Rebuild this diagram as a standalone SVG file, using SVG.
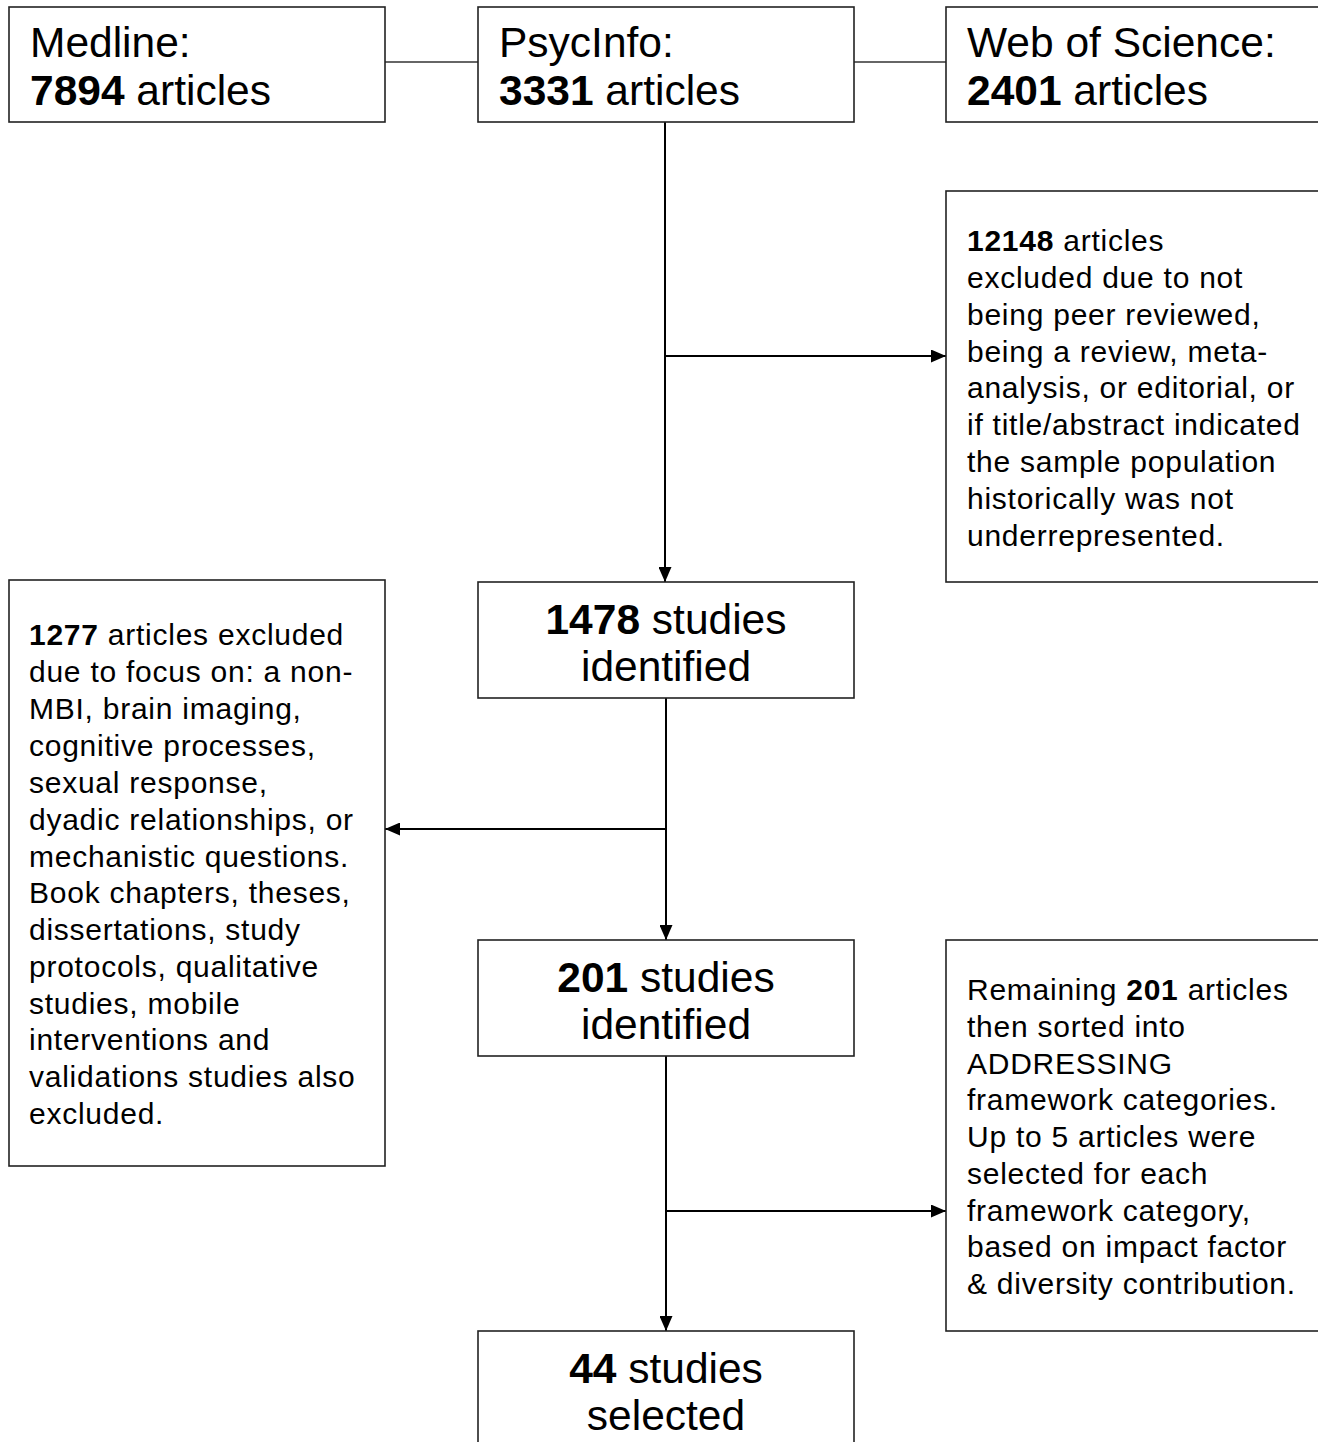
<svg xmlns="http://www.w3.org/2000/svg" width="1318" height="1442" viewBox="0 0 1318 1442">
<style>
.box{fill:#fff;stroke:#222;stroke-width:1.6}
.t{font-family:"Liberation Sans",Arial,sans-serif;fill:#000}
.big{font-size:42.5px}
.sm{font-size:30px;letter-spacing:0.75px}
.c{text-anchor:middle}
.b{font-weight:bold}
.conn{stroke:#000;stroke-width:2;fill:none}
.thin{stroke:#333;stroke-width:1.3;fill:none}
</style>
<defs>
<marker id="ah" markerWidth="15" markerHeight="13" refX="15" refY="6.5" orient="auto" markerUnits="userSpaceOnUse">
<path d="M0,0 L15,6.5 L0,13 Z" fill="#000"/>
</marker>
</defs>
<rect width="1318" height="1442" fill="#fff"/>
<g id="connectors">
<line class="thin" x1="385" y1="62" x2="478" y2="62"/>
<line class="thin" x1="854" y1="62" x2="946" y2="62"/>
<line class="conn" x1="665" y1="122" x2="665" y2="582" marker-end="url(#ah)"/>
<line class="conn" x1="665" y1="356" x2="946" y2="356" marker-end="url(#ah)"/>
<line class="conn" x1="666" y1="698" x2="666" y2="940" marker-end="url(#ah)"/>
<line class="conn" x1="666" y1="829" x2="385" y2="829" marker-end="url(#ah)"/>
<line class="conn" x1="666" y1="1056" x2="666" y2="1331" marker-end="url(#ah)"/>
<line class="conn" x1="666" y1="1211" x2="946" y2="1211" marker-end="url(#ah)"/>
</g>
<g id="medline">
<rect class="box" x="9" y="7" width="376" height="115"/>
<text class="t big" x="30" y="57">Medline:</text>
<text class="t big" x="30" y="105"><tspan class="b">7894</tspan> articles</text>
</g>
<g id="psycinfo">
<rect class="box" x="478" y="7" width="376" height="115"/>
<text class="t big" x="499" y="57">PsycInfo:</text>
<text class="t big" x="499" y="105"><tspan class="b">3331</tspan> articles</text>
</g>
<g id="wos">
<rect class="box" x="946" y="7" width="390" height="115"/>
<text class="t big" x="967" y="57">Web of Science:</text>
<text class="t big" x="967" y="105"><tspan class="b">2401</tspan> articles</text>
</g>
<g id="excl1">
<rect class="box" x="946" y="191" width="390" height="391"/>
<text class="t sm" x="967" y="251"><tspan class="b">12148</tspan> articles</text>
<text class="t sm" x="967" y="288">excluded due to not</text>
<text class="t sm" x="967" y="325">being peer reviewed,</text>
<text class="t sm" x="967" y="362">being a review, meta-</text>
<text class="t sm" x="967" y="398">analysis, or editorial, or</text>
<text class="t sm" x="967" y="435">if title/abstract indicated</text>
<text class="t sm" x="967" y="472">the sample population</text>
<text class="t sm" x="967" y="509">historically was not</text>
<text class="t sm" x="967" y="546">underrepresented.</text>
</g>
<g id="n1478">
<rect class="box" x="478" y="582" width="376" height="116"/>
<text class="t big c" x="666" y="634"><tspan class="b">1478</tspan> studies</text>
<text class="t big c" x="666" y="681">identified</text>
</g>
<g id="excl2">
<rect class="box" x="9" y="580" width="376" height="586"/>
<text class="t sm" x="29" y="645"><tspan class="b">1277</tspan> articles excluded</text>
<text class="t sm" x="29" y="682">due to focus on: a non-</text>
<text class="t sm" x="29" y="719">MBI, brain imaging,</text>
<text class="t sm" x="29" y="756">cognitive processes,</text>
<text class="t sm" x="29" y="793">sexual response,</text>
<text class="t sm" x="29" y="830">dyadic relationships, or</text>
<text class="t sm" x="29" y="867">mechanistic questions.</text>
<text class="t sm" x="29" y="903">Book chapters, theses,</text>
<text class="t sm" x="29" y="940">dissertations, study</text>
<text class="t sm" x="29" y="977">protocols, qualitative</text>
<text class="t sm" x="29" y="1014">studies, mobile</text>
<text class="t sm" x="29" y="1050">interventions and</text>
<text class="t sm" x="29" y="1087">validations studies also</text>
<text class="t sm" x="29" y="1124">excluded.</text>
</g>
<g id="n201">
<rect class="box" x="478" y="940" width="376" height="116"/>
<text class="t big c" x="666" y="992"><tspan class="b">201</tspan> studies</text>
<text class="t big c" x="666" y="1039">identified</text>
</g>
<g id="sort">
<rect class="box" x="946" y="940" width="390" height="391"/>
<text class="t sm" x="967" y="1000">Remaining <tspan class="b">201</tspan> articles</text>
<text class="t sm" x="967" y="1037">then sorted into</text>
<text class="t sm" x="967" y="1074">ADDRESSING</text>
<text class="t sm" x="967" y="1110">framework categories.</text>
<text class="t sm" x="967" y="1147">Up to 5 articles were</text>
<text class="t sm" x="967" y="1184">selected for each</text>
<text class="t sm" x="967" y="1221">framework category,</text>
<text class="t sm" x="967" y="1257">based on impact factor</text>
<text class="t sm" x="967" y="1294">&amp; diversity contribution.</text>
</g>
<g id="n44">
<rect class="box" x="478" y="1331" width="376" height="130"/>
<text class="t big c" x="666" y="1383"><tspan class="b">44</tspan> studies</text>
<text class="t big c" x="666" y="1430">selected</text>
</g>
</svg>
